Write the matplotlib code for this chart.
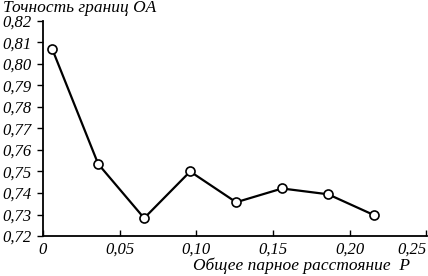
import matplotlib.pyplot as plt
from matplotlib.ticker import FuncFormatter

# data
distance = [0.006, 0.036, 0.066, 0.096, 0.126, 0.156, 0.186, 0.216]
accuracy = [0.807, 0.7535, 0.7283, 0.7500, 0.7357, 0.7421, 0.7394, 0.7297]
x_ticks = [0, 0.05, 0.10, 0.15, 0.20, 0.25]
y_ticks = [0.72, 0.73, 0.74, 0.75, 0.76, 0.77, 0.78, 0.79, 0.80, 0.81, 0.82]

plt.rcParams['font.family'] = ['Liberation Serif', 'DejaVu Serif']
plt.rcParams['font.style'] = 'italic'

fig = plt.figure(figsize=(4.28, 2.76), dpi=100)
ax = fig.add_axes([43 / 428, 40 / 276, 384 / 428, 215 / 276])

ax.plot(distance, accuracy, color='black', linewidth=1.6,
        marker='o', markersize=6.5, markerfacecolor='white',
        markeredgecolor='black', markeredgewidth=1.2, zorder=3)

ax.set_xlim(0, 0.2505)
ax.set_ylim(0.72, 0.82)
ax.set_xticks(x_ticks)
ax.set_yticks(y_ticks)

def x_fmt(v, pos):
    if v == 0:
        return '0'
    return f'{v:.2f}'.replace('.', ',')

ax.xaxis.set_major_formatter(FuncFormatter(x_fmt))
ax.yaxis.set_major_formatter(FuncFormatter(lambda v, p: f'{v:.2f}'.replace('.', ',')))

for side in ['top', 'right']:
    ax.spines[side].set_visible(False)
for side in ['left', 'bottom']:
    ax.spines[side].set_linewidth(1.3)

ax.tick_params(axis='x', direction='in', length=4, width=1, labelsize=12, pad=4)
ax.tick_params(axis='y', direction='out', length=4, width=1, labelsize=12, pad=4)

# last x label ends at its tick so it stays inside the image
ax.get_xticklabels()[-1].set_horizontalalignment('right')

fig.text(3 / 428, 1.0, 'Точность границ OA', ha='left', va='top', fontsize=12.5)
fig.text(410 / 428, 2 / 276, 'Общее парное расстояние  P', ha='right', va='bottom', fontsize=12.5)

fig.savefig('out.png', dpi=100)
